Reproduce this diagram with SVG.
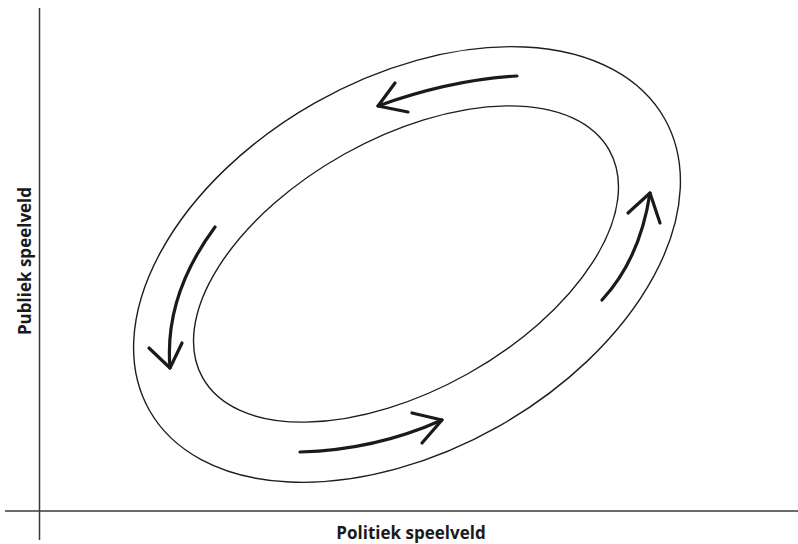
<svg xmlns="http://www.w3.org/2000/svg" width="798" height="544" viewBox="0 0 798 544">
<style>
.axis{stroke:#3a3a3a;stroke-width:1.5;fill:none}
.ring{stroke:#1e1e1e;stroke-width:1.4;fill:none}
.arr{stroke:#1a1a1a;stroke-width:3.2;fill:none;stroke-linecap:round;stroke-linejoin:round}
.lbl{font-family:"Open Sans","Liberation Sans",sans-serif;font-weight:bold;font-size:17px;fill:#1a1a1a}
</style>
<rect width="798" height="544" fill="#fff"/>
<g id="axes">
<line class="axis" x1="39.5" y1="8" x2="39.5" y2="540"/>
<line class="axis" x1="5" y1="511" x2="798" y2="511"/>
</g>
<g id="outer-ring"><ellipse class="ring" cx="407" cy="264.5" rx="296" ry="186" transform="rotate(-29.5 407 264.5)"/></g>
<g id="inner-ring"><ellipse class="ring" cx="406" cy="264" rx="233" ry="126" transform="rotate(-29.2 406 264)"/></g>
<g id="connectors">
<path class="arr" d="M517,76 Q450,80 378,106"/>
<polyline class="arr" points="395,83 378,106 408,112"/>
<path class="arr" d="M602,300 Q640,259 650,193"/>
<polyline class="arr" points="628,213 650,193 660,223"/>
<path class="arr" d="M215,227 Q164,296 170,368"/>
<polyline class="arr" points="149,348 170,368 182,343"/>
<path class="arr" d="M300,452 Q375,450 442,420"/>
<polyline class="arr" points="412,413 442,420 422,443"/>
</g>
<g id="label-x"><text class="lbl" x="411" y="539" text-anchor="middle">Politiek speelveld</text></g>
<g id="label-y"><text class="lbl" x="0" y="0" text-anchor="middle" font-size="16.5" transform="translate(31 261) rotate(-90)">Publiek speelveld</text></g>
</svg>
